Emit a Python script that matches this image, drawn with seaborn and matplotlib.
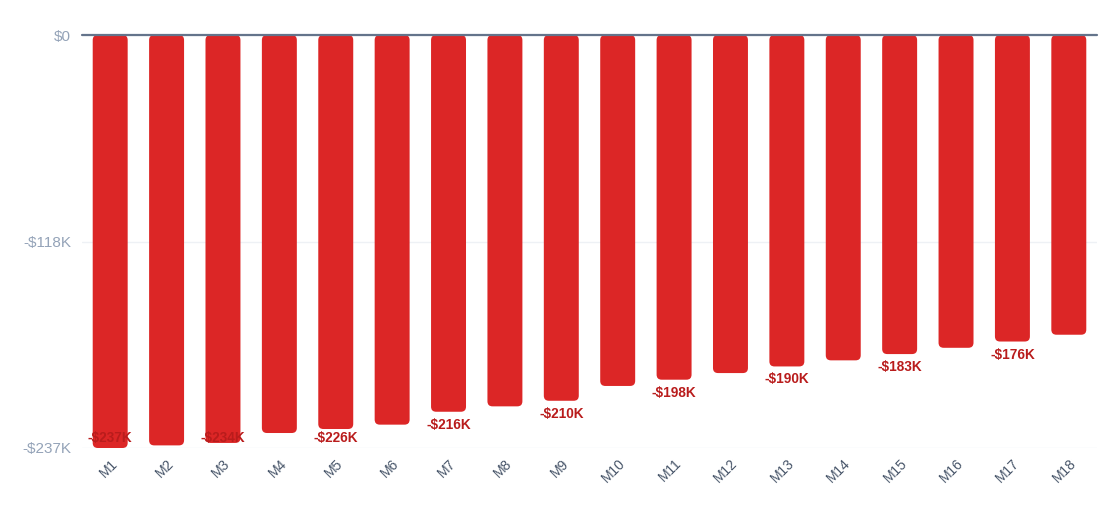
import numpy as np
import pandas as pd
import seaborn as sns
import matplotlib.pyplot as plt
from matplotlib.patches import FancyBboxPatch

months = ["M%d" % i for i in range(1, 19)]
# cumulative cash position, in $K
cash_k = [-237.0, -235.5, -234.1, -228.4, -226.1, -223.6, -216.2, -213.1, -209.9,
          -201.4, -197.8, -194.0, -190.2, -186.7, -183.1, -179.5, -175.9, -172.0]
y_ticks = [0, -118.5, -237.0]
y_tick_labels = ["$0", "-$118K", "-$237K"]

df = pd.DataFrame({"month": months, "cash": cash_k})

sns.set_theme(style="white")
plt.rcParams["font.family"] = ["Liberation Sans", "DejaVu Sans"]

fig = plt.figure(figsize=(11.2, 5.31), dpi=100)
ax = fig.add_axes([82 / 1120, 1 - 448 / 531, (1097 - 82) / 1120, (448 - 35) / 531])

sns.barplot(data=df, x="month", y="cash", color="#dc2626", width=0.62,
            saturation=1, ax=ax, zorder=3)

ax.set_xlim(-0.5, len(months) - 0.5)
ax.set_ylim(min(cash_k), 0)

# swap plain bars for rounded ones
px_x = (1097 - 82) / len(months)
px_y = (448 - 35) / abs(min(cash_k))
aspect = px_x / px_y
for p in list(ax.patches):
    x, y = p.get_x(), p.get_y()
    w, h = p.get_width(), p.get_height()
    p.remove()
    rb = FancyBboxPatch((x, min(y, y + h)), w, abs(h),
                        boxstyle="round,pad=0,rounding_size=0.09",
                        mutation_aspect=aspect, facecolor="#dc2626",
                        edgecolor="none", zorder=3, clip_on=False)
    ax.add_patch(rb)

# value labels on every other bar
floor = min(cash_k) + 10 / px_y
for i, v in enumerate(cash_k):
    if i % 2 == 0:
        ly = max(v - 13 / px_y, floor)
        ax.text(i, ly, "-$%dK" % round(abs(v)), ha="center", va="center",
                fontsize=9.8, fontweight="bold", color="#b91c1c", zorder=5)

ax.set_yticks(y_ticks)
ax.set_yticklabels(y_tick_labels)
ax.tick_params(axis="y", length=0, pad=8, labelsize=11, labelcolor="#94a3b8")
ax.tick_params(axis="x", length=0, pad=6, labelsize=10, labelcolor="#475569")
for lbl in ax.get_xticklabels():
    lbl.set_rotation(45)
    lbl.set_ha("right")
    lbl.set_rotation_mode("anchor")

ax.grid(axis="y", color="#eef1f5", linewidth=1, zorder=0)
ax.axhline(0, color="#64748b", linewidth=1.6, zorder=4, clip_on=False)
for s in ax.spines.values():
    s.set_visible(False)
ax.set_xlabel("")
ax.set_ylabel("")

fig.savefig("out.png", dpi=100)
